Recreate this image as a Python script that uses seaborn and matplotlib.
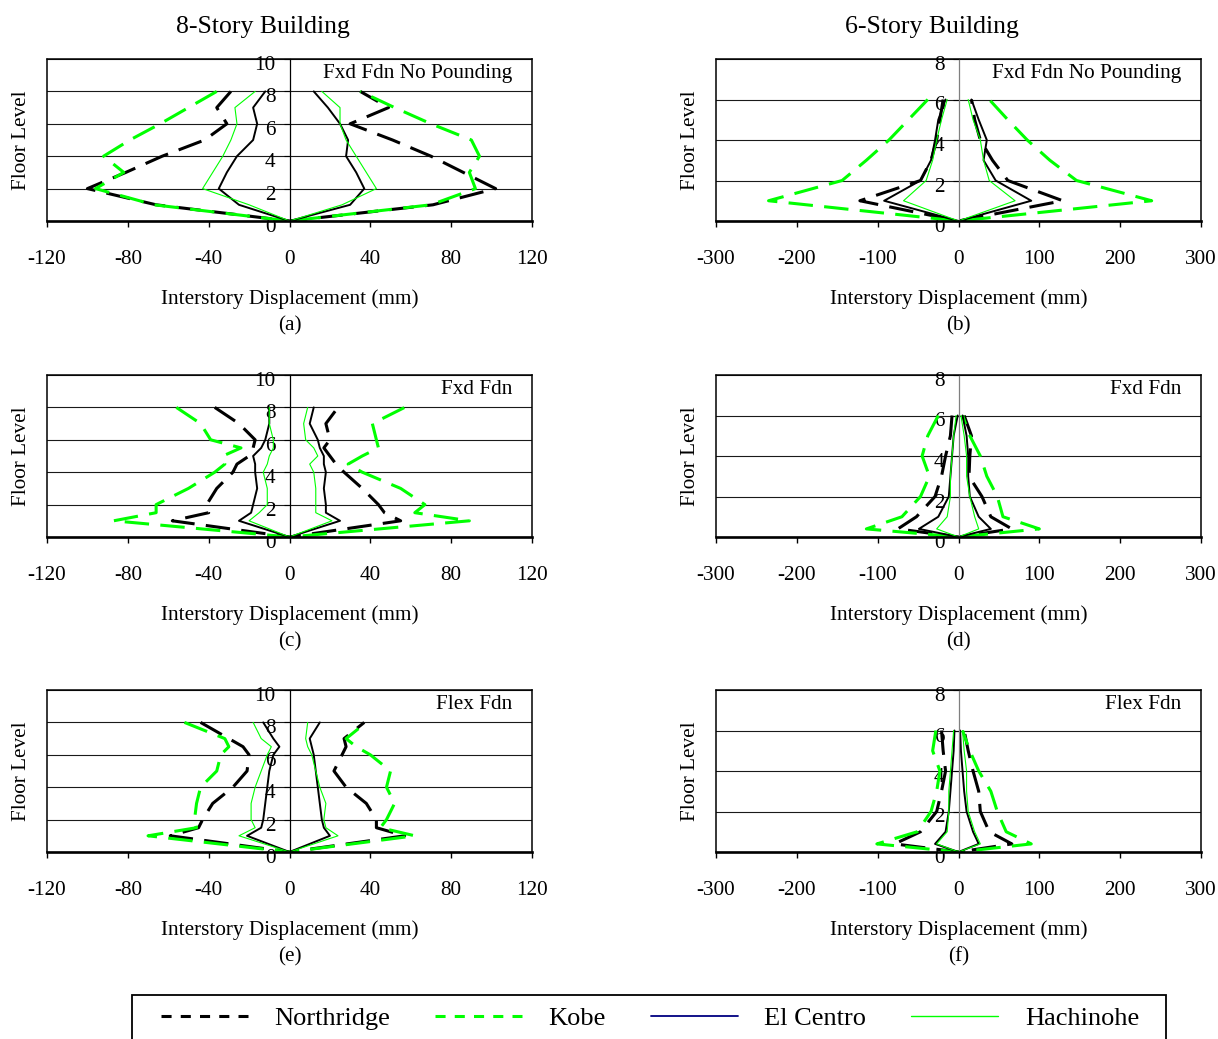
import numpy as np
import pandas as pd
import matplotlib
matplotlib.use("Agg")
import matplotlib.pyplot as plt
import seaborn as sns
from matplotlib.lines import Line2D
from matplotlib.patches import Rectangle
from matplotlib.transforms import ScaledTranslation

# ---------------- data (interstory displacement, mm) ----------------
RECORDS = ["Northridge", "Kobe", "El Centro", "Hachinohe"]

# (a) 8-story, fixed foundation, no pounding
A_FLOORS = [0, 1, 2, 3, 4, 5, 6, 7, 8]
A_NORTH_L = [0, -66, -100, -81, -63, -42, -31, -36, -29]
A_NORTH_R = [0, 71, 102, 86, 70, 51, 30, 49, 35]
A_KOBE_L = [0, -67, -96, -82, -92, -79, -64, -50, -36]
A_KOBE_R = [0, 70, 92, 89, 94, 90, 70, 52, 35]
A_ELC_L = [0, -25, -35, -31, -26, -18, -16, -18, -12]
A_ELC_R = [0, 30, 37, 33, 28, 29, 25, 19, 12]
A_HACH_L = [0, -20, -43, -38, -33, -29, -26, -27, -17]
A_HACH_R = [0, 26, 43, 38, 33, 28, 25, 25, 16]

# (b) 6-story, fixed foundation, no pounding
B_FLOORS = [0, 1, 2, 3, 4, 5, 6]
B_NORTH_L = [0, -122, -47, -34, -27, -23, -19]
B_NORTH_R = [0, 129, 61, 42, 27, 20, 16]
B_KOBE_L = [0, -235, -144, -114, -86, -62, -38]
B_KOBE_R = [0, 239, 146, 113, 85, 61, 38]
B_ELC_L = [0, -92, -47, -34, -29, -25, -16]
B_ELC_R = [0, 90, 46, 31, 35, 25, 16]
B_HACH_L = [0, -68, -40, -32, -27, -21, -14]
B_HACH_R = [0, 70, 38, 31, 27, 18, 12]

# (c) 8-story, fixed foundation
C_FLOORS = [0, 1, 1.5, 2, 3, 4, 4.5, 5, 5.5, 6, 7, 8]
C_NORTH_L = [0, -58, -40, -41, -36, -28, -26, -20, -18, -17, -25, -37]
C_NORTH_R = [0, 55, 47, 44, 36, 27, 23, 20, 17, 20, 18, 24]
C_KOBE_L = [0, -87, -66, -66, -50, -37, -32, -33, -24, -39, -44, -56]
C_KOBE_R = [0, 89, 62, 67, 55, 36, 29, 36, 44, 43, 41, 57]
C_ELC_L = [0, -25, -19, -18, -16, -17, -17, -18, -14, -12, -10, -10]
C_ELC_R = [0, 25, 18, 18, 17, 18, 17, 17, 15, 14, 10, 12]
C_HACH_L = [0, -20, -15, -11, -11, -13, -11, -10, -8, -8, -10, -10]
C_HACH_R = [0, 21, 13, 13, 13, 12, 10, 14, 12, 8, 7, 9]

# (d) 6-story, fixed foundation
D_FLOORS = [0, 0.4, 1, 2, 3, 4, 5, 6]
D_NORTH_L = [0, -75, -52, -29, -21, -16, -10, -8]
D_NORTH_R = [0, 66, 40, 29, 13, 14, 16, 7]
D_KOBE_L = [0, -114, -70, -47, -36, -45, -38, -25]
D_KOBE_R = [0, 100, 55, 48, 35, 27, 14, 5]
D_ELC_L = [0, -49, -25, -12, -10, -8, -6, -1]
D_ELC_R = [0, 40, 25, 14, 12, 12, 10, 5]
D_HACH_L = [0, -27, -14, -10, -10, -8, -6, -3]
D_HACH_R = [0, 25, 20, 14, 10, 10, 7, 3]

# (e) 8-story, flexible foundation
E_FLOORS = [0, 1, 1.5, 2, 3, 4, 5, 6, 6.5, 7, 8]
E_NORTH_L = [0, -59, -45, -43, -38, -28, -21, -20, -23, -30, -44]
E_NORTH_R = [0, 57, 43, 43, 38, 28, 22, 26, 28, 27, 37]
E_KOBE_L = [0, -70, -46, -47, -46, -44, -36, -34, -30, -32, -52]
E_KOBE_R = [0, 62, 45, 48, 52, 48, 50, 40, 33, 28, 38]
E_ELC_L = [0, -21, -14, -13, -12, -11, -10, -8, -5, -8, -13]
E_ELC_R = [0, 20, 17, 16, 15, 14, 13, 12, 11, 10, 15]
E_HACH_L = [0, -25, -17, -19, -19, -17, -14, -11, -9, -14, -18]
E_HACH_R = [0, 24, 18, 17, 18, 15, 13, 11, 9, 8, 9]

# (f) 6-story, flexible foundation
F_FLOORS = [0, 0.4, 1, 2, 3, 4, 5, 6]
F_NORTH_L = [0, -79, -47, -27, -21, -16, -19, -21]
F_NORTH_R = [0, 66, 38, 27, 25, 18, 12, 7]
F_KOBE_L = [0, -101, -51, -34, -27, -23, -32, -28]
F_KOBE_R = [0, 90, 59, 48, 40, 25, 14, 5]
F_ELC_L = [0, -29, -16, -12, -10, -8, -6, -5]
F_ELC_R = [0, 25, 18, 10, 7, 5, 3, 2]
F_HACH_L = [0, -27, -14, -12, -12, -10, -8, -6]
F_HACH_R = [0, 27, 20, 12, 10, 10, 7, 5]

X_TICKS_8 = [-120, -80, -40, 0, 40, 80, 120]
X_TICKS_6 = [-300, -200, -100, 0, 100, 200, 300]
Y_TICKS_8 = [0, 2, 4, 6, 8, 10]
Y_TICKS_6 = [0, 2, 4, 6, 8]

# ---------------- styling ----------------
sns.set_theme(style="white")
plt.rcParams["font.family"] = ["Liberation Serif", "DejaVu Serif"]
plt.rcParams["text.color"] = "black"
plt.rcParams["axes.labelcolor"] = "black"
plt.rcParams["xtick.color"] = "black"
plt.rcParams["ytick.color"] = "black"

GREEN = "#00FF00"
palette = {"Northridge": "black", "Kobe": GREEN, "El Centro": "black", "Hachinohe": GREEN}
sizes = {"Northridge": 2.2, "Kobe": 2.2, "El Centro": 1.4, "Hachinohe": 0.8}
dashes = {"Northridge": (8, 3.7), "Kobe": (8, 3.7), "El Centro": "", "Hachinohe": ""}

W, H = 1218, 1039
fig = plt.figure(figsize=(W / 100, H / 100), dpi=100)
fig.patch.set_facecolor("white")


def fx(px):
    return px / W


def fy(py):
    return 1 - py / H


def build_df(floors, series):
    rows = []
    for name, (left, right) in zip(RECORDS, series):
        # left envelope from top down to the base, then right envelope up
        for f, v in zip(floors[::-1], left[::-1]):
            rows.append((name, v, f))
        for f, v in zip(floors, right):
            rows.append((name, v, f))
    return pd.DataFrame(rows, columns=["record", "disp", "floor"])


panels = [
    ("(a)", "Fxd Fdn No Pounding", 47, 59, 8, A_FLOORS,
     [(A_NORTH_L, A_NORTH_R), (A_KOBE_L, A_KOBE_R), (A_ELC_L, A_ELC_R), (A_HACH_L, A_HACH_R)]),
    ("(b)", "Fxd Fdn No Pounding", 716, 59, 6, B_FLOORS,
     [(B_NORTH_L, B_NORTH_R), (B_KOBE_L, B_KOBE_R), (B_ELC_L, B_ELC_R), (B_HACH_L, B_HACH_R)]),
    ("(c)", "Fxd Fdn", 47, 375, 8, C_FLOORS,
     [(C_NORTH_L, C_NORTH_R), (C_KOBE_L, C_KOBE_R), (C_ELC_L, C_ELC_R), (C_HACH_L, C_HACH_R)]),
    ("(d)", "Fxd Fdn", 716, 375, 6, D_FLOORS,
     [(D_NORTH_L, D_NORTH_R), (D_KOBE_L, D_KOBE_R), (D_ELC_L, D_ELC_R), (D_HACH_L, D_HACH_R)]),
    ("(e)", "Flex Fdn", 47, 690, 8, E_FLOORS,
     [(E_NORTH_L, E_NORTH_R), (E_KOBE_L, E_KOBE_R), (E_ELC_L, E_ELC_R), (E_HACH_L, E_HACH_R)]),
    ("(f)", "Flex Fdn", 716, 690, 6, F_FLOORS,
     [(F_NORTH_L, F_NORTH_R), (F_KOBE_L, F_KOBE_R), (F_ELC_L, F_ELC_R), (F_HACH_L, F_HACH_R)]),
]

AX_W, AX_H = 485, 162
FS = 15.3
label_shift = ScaledTranslation(0, -4 / 100, fig.dpi_scale_trans)

for tag, label, left, top, stories, floors, series in panels:
    ax = fig.add_axes([fx(left), fy(top + AX_H), AX_W / W, AX_H / H])
    df = build_df(floors, series)
    sns.lineplot(data=df, x="disp", y="floor", hue="record", size="record", style="record",
                 hue_order=RECORDS, size_order=RECORDS, style_order=RECORDS,
                 palette=palette, sizes=sizes, dashes=dashes,
                 sort=False, estimator=None, orient="y", legend=False, ax=ax)
    if stories == 8:
        ax.set_xlim(-120, 120)
        ax.set_xticks(X_TICKS_8)
        ax.set_ylim(0, 10)
        ax.set_yticks(Y_TICKS_8)
        center_color = "black"
    else:
        ax.set_xlim(-300, 300)
        ax.set_xticks(X_TICKS_6)
        ax.set_ylim(0, 8)
        ax.set_yticks(Y_TICKS_6)
        center_color = "#7f7f7f"
    ax.set_xticklabels([str(t) for t in ax.get_xticks().astype(int)])
    ax.set_yticklabels([str(t) for t in ax.get_yticks().astype(int)])
    ax.set_xlabel("")
    ax.set_ylabel("")

    ax.yaxis.grid(True, color="#1a1a1a", lw=0.8)
    ax.xaxis.grid(False)
    ax.set_axisbelow(True)

    ax.spines["left"].set_position(("data", 0))
    ax.spines["left"].set_color(center_color)
    ax.spines["left"].set_linewidth(0.9)
    ax.spines["bottom"].set_linewidth(1.9)
    ax.spines["bottom"].set_color("black")
    for s in ("top", "right"):
        ax.spines[s].set_linewidth(1.1)
        ax.spines[s].set_color("black")
        ax.spines[s].set_visible(True)
    # outer left edge of the frame
    ax.plot([0, 0], [0, 1], transform=ax.transAxes, color="black", lw=1.1, clip_on=False)

    ax.tick_params(axis="x", bottom=True, direction="out", length=4, width=1.0,
                   pad=17, labelsize=FS, colors="black")
    ax.tick_params(axis="y", left=True, direction="out", length=4, width=0.8,
                   pad=6, labelsize=FS, colors="black")
    for t in ax.yaxis.get_major_ticks():
        t.label1.set_transform(t.label1.get_transform() + label_shift)

    ax.text(0.96, 0.91, label, transform=ax.transAxes, ha="right", va="center",
            fontsize=FS, color="black")
    ax.text(-25 / AX_W, 0.5, "Floor Level", transform=ax.transAxes, rotation=90,
            ha="center", va="center", fontsize=FS, color="black")
    ax.annotate("Interstory Displacement (mm)", xy=(0.5, 0), xycoords="axes fraction",
                xytext=(0, -78 * 0.72), textcoords="offset points",
                ha="center", va="center", fontsize=FS, color="black")
    ax.annotate(tag, xy=(0.5, 0), xycoords="axes fraction",
                xytext=(0, -105 * 0.72), textcoords="offset points",
                ha="center", va="center", fontsize=FS, color="black")

fig.text(fx(263), fy(27), "8-Story Building", ha="center", va="center", fontsize=18.5,
         color="black")
fig.text(fx(932), fy(27), "6-Story Building", ha="center", va="center", fontsize=18.5,
         color="black")

# legend
fig.patches.append(Rectangle((fx(132), fy(1046)), (1166 - 132) / W, (1046 - 995) / H,
                             transform=fig.transFigure, fill=False, ec="black", lw=1.3))
handles = [
    Line2D([], [], color="black", lw=2.2, dashes=(3.3, 3.0)),
    Line2D([], [], color=GREEN, lw=2.2, dashes=(3.3, 3.0)),
    Line2D([], [], color="#000080", lw=1.3),
    Line2D([], [], color=GREEN, lw=1.0),
]
leg = fig.legend(handles, RECORDS, loc="center", bbox_to_anchor=(fx(650), fy(1018)), ncol=4,
                 frameon=False, handlelength=3.3, handletextpad=1.0, columnspacing=1.7,
                 fontsize=19)
for txt in leg.get_texts():
    txt.set_color("black")

fig.savefig("out.png", dpi=100)
